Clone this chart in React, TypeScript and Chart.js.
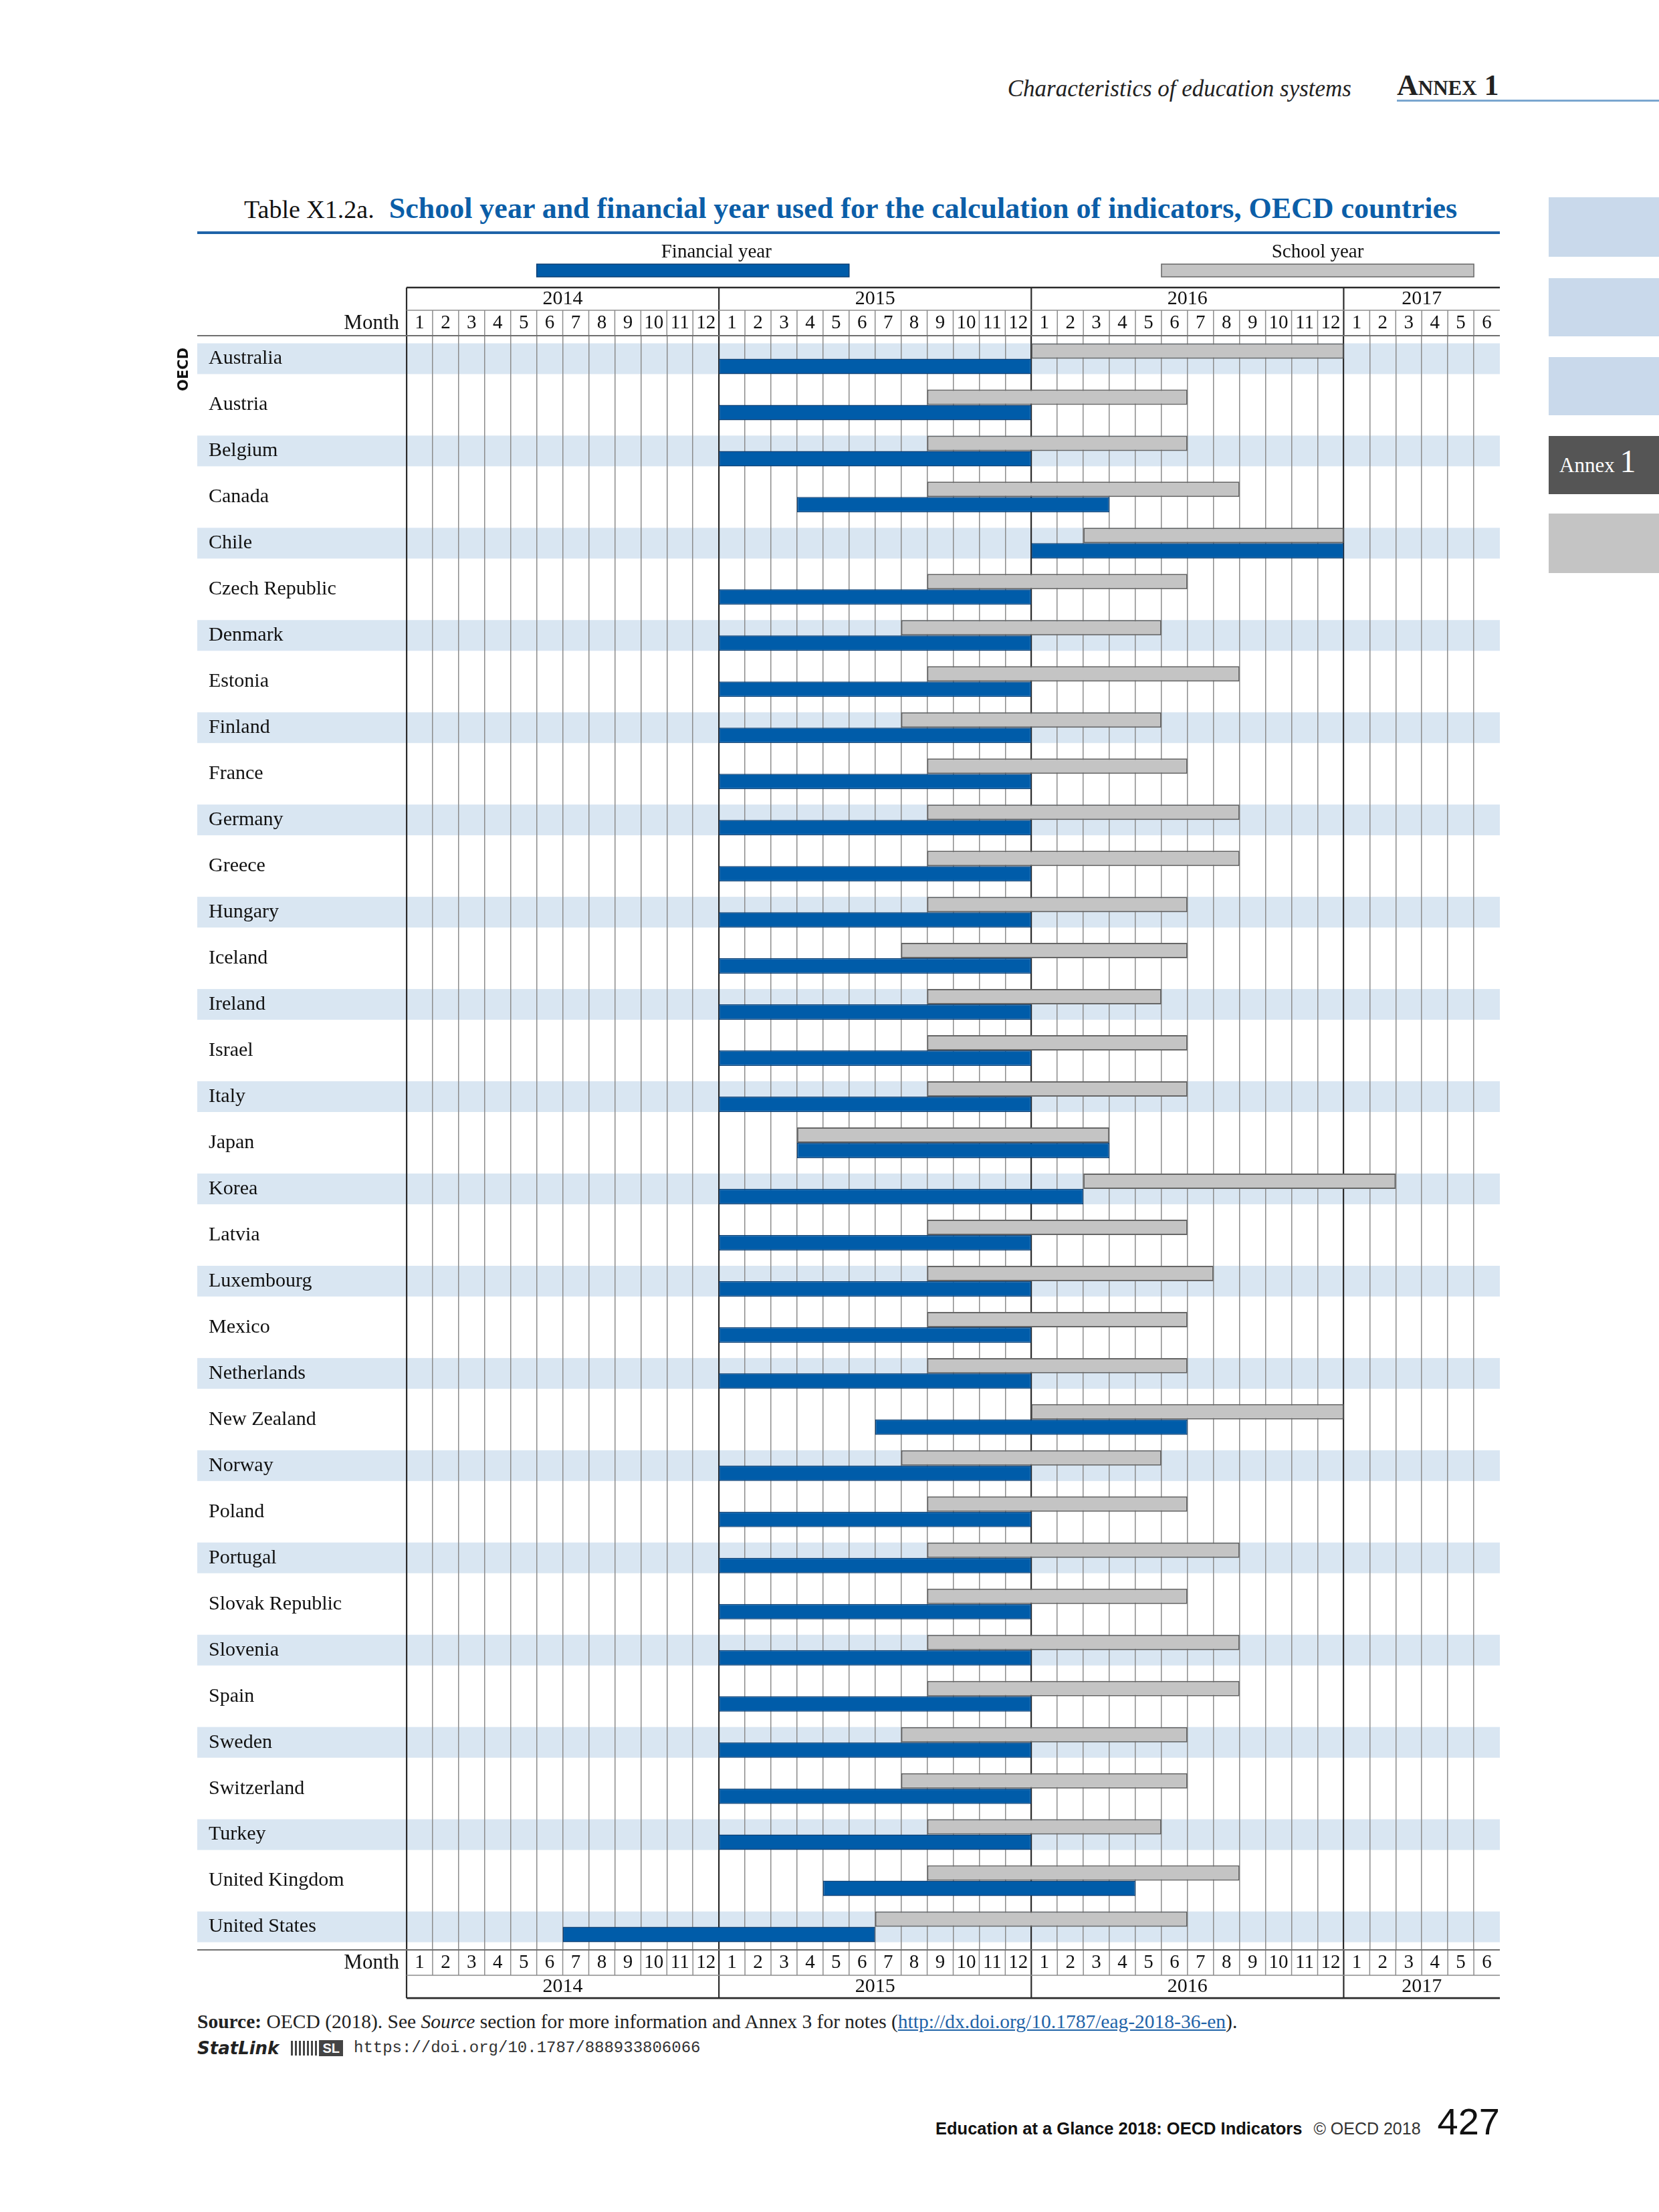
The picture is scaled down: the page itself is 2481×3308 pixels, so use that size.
import React, { useEffect, useRef } from 'react';
import { Chart, registerables } from 'chart.js';

Chart.register(...registerables);

// ---- data -------------------------------------------------------------
const countries = [
  'Australia', 'Austria', 'Belgium', 'Canada', 'Chile', 'Czech Republic', 'Denmark',
  'Estonia', 'Finland', 'France', 'Germany', 'Greece', 'Hungary', 'Iceland', 'Ireland',
  'Israel', 'Italy', 'Japan', 'Korea', 'Latvia', 'Luxembourg', 'Mexico', 'Netherlands',
  'New Zealand', 'Norway', 'Poland', 'Portugal', 'Slovak Republic', 'Slovenia', 'Spain',
  'Sweden', 'Switzerland', 'Turkey', 'United Kingdom', 'United States',
];

// [start, end] in months counted from the start of January 2014
const schoolYear = [
  [24, 36], [20, 30], [20, 30], [20, 32], [26, 36], [20, 30], [19, 29],
  [20, 32], [19, 29], [20, 30], [20, 32], [20, 32], [20, 30], [19, 30], [20, 29],
  [20, 30], [20, 30], [15, 27], [26, 38], [20, 30], [20, 31], [20, 30], [20, 30],
  [24, 36], [19, 29], [20, 30], [20, 32], [20, 30], [20, 32], [20, 32],
  [19, 30], [19, 30], [20, 29], [20, 32], [18, 30],
];

const financialYear = [
  [12, 24], [12, 24], [12, 24], [15, 27], [24, 36], [12, 24], [12, 24],
  [12, 24], [12, 24], [12, 24], [12, 24], [12, 24], [12, 24], [12, 24], [12, 24],
  [12, 24], [12, 24], [15, 27], [12, 26], [12, 24], [12, 24], [12, 24], [12, 24],
  [18, 30], [12, 24], [12, 24], [12, 24], [12, 24], [12, 24], [12, 24],
  [12, 24], [12, 24], [12, 24], [16, 28], [6, 18],
];

const monthLabels = [
  '1', '2', '3', '4', '5', '6', '7', '8', '9', '10', '11', '12',
  '1', '2', '3', '4', '5', '6', '7', '8', '9', '10', '11', '12',
  '1', '2', '3', '4', '5', '6', '7', '8', '9', '10', '11', '12',
  '1', '2', '3', '4', '5', '6',
];
const yearLabels = ['2014', '2015', '2016', '2017'];
const yearBounds = [0, 12, 24, 36, 42];

const legendItems = ['Financial year', 'School year'];
const legendSpans = [[5, 17], [29, 41]];
const legendTextAt = [11.9, 35];

// ---- style --------------------------------------------------------------
const SERIF = '"Liberation Serif", "DejaVu Serif", serif';
const SANS = '"Liberation Sans", "DejaVu Sans", sans-serif';
const BLUE = '#005ca9';
const BLUE_BORDER = '#0b3f74';
const GREY = '#c4c4c4';
const GREY_BORDER = '#666666';
const BAND = '#d9e6f2';
const DARK_LINE = '#2b2b2b';
const LIGHT_LINE = '#8c8c8c';

const W = 2481;
const CANVAS_TOP = 355;
const CANVAS_H = 2640;
const YEAR_ROW = 34;
const MONTH_ROW = 38;
const BAND_LEFT = 295;

export default function App() {
  const ref = useRef<HTMLCanvasElement>(null);

  useEffect(() => {
    document.body.style.margin = '0';
    const canvas = ref.current;
    if (!canvas) return;

    const isYearLine = (v: number) => yearBounds.indexOf(v) >= 0;

    const tablePlugin = {
      id: 'tableDecor',
      beforeDraw(chart: any) {
        const { ctx, chartArea } = chart;
        const y = chart.scales.y;
        const slot = (chartArea.bottom - chartArea.top) / countries.length;
        ctx.save();
        ctx.fillStyle = BAND;
        countries.forEach((_, i) => {
          if (i % 2 === 0) {
            const cy = y.getPixelForValue(i);
            ctx.fillRect(BAND_LEFT, cy - slot / 3, chartArea.right - BAND_LEFT, (slot * 2) / 3);
          }
        });
        ctx.restore();
      },
      afterDraw(chart: any) {
        const { ctx, chartArea } = chart;
        const x = chart.scales.x;
        const y = chart.scales.y;
        const px = (v: number) => x.getPixelForValue(v);
        const L = px(yearBounds[0]);
        const R = px(yearBounds[yearBounds.length - 1]);
        const top = chartArea.top;
        const bot = chartArea.bottom;
        const hline = (yy: number, x1: number, x2: number, c: string, w: number) => {
          ctx.beginPath();
          ctx.strokeStyle = c;
          ctx.lineWidth = w;
          ctx.moveTo(x1, yy);
          ctx.lineTo(x2, yy);
          ctx.stroke();
        };
        const vline = (xx: number, y1: number, y2: number, c: string, w: number) => {
          ctx.beginPath();
          ctx.strokeStyle = c;
          ctx.lineWidth = w;
          ctx.moveTo(xx, y1);
          ctx.lineTo(xx, y2);
          ctx.stroke();
        };
        ctx.save();
        // month separators in header/footer rows
        for (let m = 1; m < monthLabels.length; m++) {
          if (isYearLine(m)) continue;
          vline(px(m), top - MONTH_ROW, top, LIGHT_LINE, 1.5);
          vline(px(m), bot, bot + MONTH_ROW, LIGHT_LINE, 1.5);
        }
        for (let i = 0; i < yearBounds.length - 1; i++) {
          const v = yearBounds[i];
          vline(px(v), top - MONTH_ROW - YEAR_ROW, top, DARK_LINE, 2.2);
          vline(px(v), bot, bot + MONTH_ROW + YEAR_ROW, DARK_LINE, 2.2);
        }
        hline(top - MONTH_ROW - YEAR_ROW, L, R, DARK_LINE, 2.6);
        hline(top - MONTH_ROW, L, R, LIGHT_LINE, 1.5);
        hline(top, BAND_LEFT, R, '#6f6f6f', 2);
        hline(bot, BAND_LEFT, R, '#6f6f6f', 2);
        hline(bot + MONTH_ROW, L, R, LIGHT_LINE, 1.5);
        hline(bot + MONTH_ROW + YEAR_ROW, L, R, DARK_LINE, 2.8);

        // "Month" row captions
        ctx.fillStyle = '#111';
        ctx.font = `31px ${SERIF}`;
        ctx.textAlign = 'right';
        ctx.textBaseline = 'middle';
        ctx.fillText('Month', L - 11, top - MONTH_ROW / 2 + 1);
        ctx.fillText('Month', L - 11, bot + MONTH_ROW / 2 + 1);

        // legend
        ctx.font = `29px ${SERIF}`;
        ctx.textAlign = 'center';
        legendItems.forEach((label, i) => {
          ctx.fillStyle = '#111';
          ctx.fillText(label, px(legendTextAt[i]), 22);
          const x1 = px(legendSpans[i][0]);
          const x2 = px(legendSpans[i][1]);
          ctx.fillStyle = i === 0 ? BLUE : GREY;
          ctx.fillRect(x1, 40, x2 - x1, 19);
          ctx.strokeStyle = i === 0 ? BLUE_BORDER : GREY_BORDER;
          ctx.lineWidth = 1.5;
          ctx.strokeRect(x1, 40, x2 - x1, 19);
        });

        // OECD vertical caption
        ctx.save();
        ctx.translate(276, y.getPixelForValue(0) + 16);
        ctx.rotate(-Math.PI / 2);
        ctx.font = `bold 21px "DejaVu Sans", sans-serif`;
        ctx.fillStyle = '#111';
        ctx.textAlign = 'center';
        ctx.textBaseline = 'middle';
        ctx.fillText('OECD', 0, 0);
        ctx.restore();
        ctx.restore();
      },
    };

    const monthAxis = (position: 'top' | 'bottom') => ({
      type: 'linear' as const,
      position,
      weight: 1,
      min: -0.5,
      max: monthLabels.length - 0.5,
      afterBuildTicks: (axis: any) => {
        axis.ticks = monthLabels.map((_, i) => ({ value: i }));
      },
      grid: { display: false, drawTicks: false },
      border: { display: false },
      ticks: {
        autoSkip: false,
        maxRotation: 0,
        padding: 2.3,
        color: '#111',
        font: { family: SERIF, size: 29, lineHeight: 1.15 },
        callback: (_v: any, i: number) => monthLabels[i],
      },
    });

    const yearAxis = (position: 'top' | 'bottom') => ({
      type: 'linear' as const,
      position,
      weight: 2,
      min: yearBounds[0],
      max: yearBounds[yearBounds.length - 1],
      afterBuildTicks: (axis: any) => {
        axis.ticks = yearLabels.map((_, i) => ({ value: (yearBounds[i] + yearBounds[i + 1]) / 2 }));
      },
      grid: { display: false, drawTicks: false },
      border: { display: false },
      ticks: {
        autoSkip: false,
        maxRotation: 0,
        padding: 0.5,
        color: '#111',
        font: { family: SERIF, size: 30, lineHeight: 1.1 },
        callback: (_v: any, i: number) => yearLabels[i],
      },
    });

    const chart = new Chart(canvas, {
      type: 'bar',
      data: {
        labels: countries,
        datasets: [
          {
            label: 'School year',
            data: schoolYear as any,
            backgroundColor: GREY,
            borderColor: GREY_BORDER,
            borderWidth: 2,
            borderSkipped: false,
            categoryPercentage: 2 / 3,
            barPercentage: 1,
          },
          {
            label: 'Financial year',
            data: financialYear as any,
            backgroundColor: BLUE,
            borderColor: BLUE_BORDER,
            borderWidth: 1.5,
            borderSkipped: false,
            categoryPercentage: 2 / 3,
            barPercentage: 1,
          },
        ],
      },
      options: {
        indexAxis: 'y',
        animation: false,
        responsive: false,
        devicePixelRatio: 1,
        layout: { padding: { top: 75, left: 312, right: W - 2243, bottom: 7 } },
        plugins: { legend: { display: false }, tooltip: { enabled: false } },
        scales: {
          x: {
            type: 'linear',
            position: 'bottom',
            weight: 0,
            min: yearBounds[0],
            max: yearBounds[yearBounds.length - 1],
            afterBuildTicks: (axis: any) => {
              const t: any[] = [];
              for (let v = yearBounds[0]; v <= yearBounds[yearBounds.length - 1]; v++) t.push({ value: v });
              axis.ticks = t;
            },
            ticks: { display: false },
            border: { display: false },
            grid: {
              drawTicks: false,
              color: (c: any) => {
                const v = c.tick ? c.tick.value : -1;
                if (v === yearBounds[yearBounds.length - 1]) return 'rgba(0,0,0,0)';
                return isYearLine(v) ? DARK_LINE : LIGHT_LINE;
              },
              lineWidth: (c: any) => (c.tick && isYearLine(c.tick.value) ? 2.2 : 1.5),
            },
          },
          xMonthTop: monthAxis('top'),
          xYearTop: yearAxis('top'),
          xMonthBottom: monthAxis('bottom'),
          xYearBottom: yearAxis('bottom'),
          y: {
            type: 'category',
            position: 'left',
            afterFit: (scale: any) => {
              scale.width = 608 - 312;
            },
            grid: { display: false, drawTicks: false },
            border: { display: false },
            ticks: {
              autoSkip: false,
              crossAlign: 'far',
              color: '#111',
              font: { family: SERIF, size: 30 },
            },
          },
        } as any,
      },
      plugins: [tablePlugin],
    });

    return () => chart.destroy();
  }, []);

  const abs = (l: number, t: number): React.CSSProperties => ({ position: 'absolute', left: l, top: t, whiteSpace: 'nowrap' });

  return (
    <div style={{ position: 'absolute', left: 0, top: 0, width: W, height: 3308, background: '#fff', overflow: 'hidden' }}>
      {/* running header */}
      <div style={{ position: 'absolute', right: W - 2021, top: 112, height: 42, lineHeight: '42px', fontFamily: SERIF, fontStyle: 'italic', fontSize: 35, color: '#222', whiteSpace: 'nowrap' }}>
        Characteristics of education systems
      </div>
      <div style={{ ...abs(2089, 106), height: 44, lineHeight: '44px', fontFamily: SERIF, fontWeight: 'bold', fontSize: 44, fontVariant: 'small-caps', color: '#222' }}>
        Annex 1
      </div>
      <div style={{ position: 'absolute', left: 2089, top: 149, width: W - 2089, height: 3, background: '#7aa6cf' }} />

      {/* side tabs */}
      <div style={{ position: 'absolute', left: 2316, top: 295, width: 165, height: 89, background: '#c9d9eb' }} />
      <div style={{ position: 'absolute', left: 2316, top: 416, width: 165, height: 87, background: '#c9d9eb' }} />
      <div style={{ position: 'absolute', left: 2316, top: 534, width: 165, height: 87, background: '#c9d9eb' }} />
      <div style={{ position: 'absolute', left: 2316, top: 652, width: 165, height: 87, background: '#555555' }}>
        <div style={{ position: 'absolute', left: 16, top: 8, height: 60, lineHeight: '60px', color: '#fff', fontFamily: SERIF, whiteSpace: 'nowrap' }}>
          <span style={{ fontSize: 31 }}>Annex </span>
          <span style={{ fontSize: 48 }}>1</span>
        </div>
      </div>
      <div style={{ position: 'absolute', left: 2316, top: 768, width: 165, height: 89, background: '#c4c4c4' }} />

      {/* title */}
      <div style={{ ...abs(365, 287), height: 50, lineHeight: '50px', fontFamily: SERIF }}>
        <span style={{ color: '#111', fontSize: 38 }}>Table X1.2a.</span>
        <span style={{ color: '#0b5ea8', fontWeight: 'bold', fontSize: 44 }}>{'\u00a0\u00a0'}School year and financial year used for the calculation of indicators, OECD countries</span>
      </div>
      <div style={{ position: 'absolute', left: 295, top: 346, width: 2243 - 295, height: 4, background: '#1f63a8' }} />

      {/* chart */}
      <canvas
        ref={ref}
        width={W}
        height={CANVAS_H}
        style={{ position: 'absolute', left: 0, top: CANVAS_TOP, width: W, height: CANVAS_H }}
      />

      {/* source */}
      <div style={{ ...abs(295, 3004), height: 38, lineHeight: '38px', fontFamily: SERIF, fontSize: 29.5, color: '#222' }}>
        <b>Source:</b> OECD (2018). See <i>Source</i> section for more information and Annex 3 for notes (
        <span style={{ color: '#1f63a8', textDecoration: 'underline' }}>http://dx.doi.org/10.1787/eag-2018-36-en</span>).
      </div>
      <div style={{ ...abs(295, 3046), height: 34, lineHeight: '34px', display: 'flex', alignItems: 'center' }}>
        <span style={{ fontFamily: '"DejaVu Sans", sans-serif', fontStyle: 'italic', fontWeight: 'bold', fontSize: 26, color: '#222' }}>StatLink</span>
        <span style={{ display: 'inline-block', marginLeft: 18, width: 40, height: 22, background: 'repeating-linear-gradient(90deg,#444 0 3px,#fff 3px 6px)' }} />
        <span style={{ display: 'inline-block', marginLeft: 2, height: 24, lineHeight: '24px', padding: '0 5px', background: '#444', color: '#fff', fontFamily: SANS, fontWeight: 'bold', fontSize: 20 }}>SL</span>
        <span style={{ marginLeft: 16, fontFamily: '"Liberation Mono", "DejaVu Sans Mono", monospace', fontSize: 24, color: '#333' }}>https://doi.org/10.1787/888933806066</span>
      </div>

      {/* footer */}
      <div style={{ ...abs(1399, 3140), display: 'flex', alignItems: 'baseline', fontFamily: SANS, color: '#111' }}>
        <span style={{ fontWeight: 'bold', fontSize: 25.5 }}>Education at a Glance 2018: OECD Indicators</span>
        <span style={{ marginLeft: 17, fontSize: 25, color: '#333' }}>© OECD 2018</span>
        <span style={{ marginLeft: 25, fontSize: 56 }}>427</span>
      </div>
    </div>
  );
}
